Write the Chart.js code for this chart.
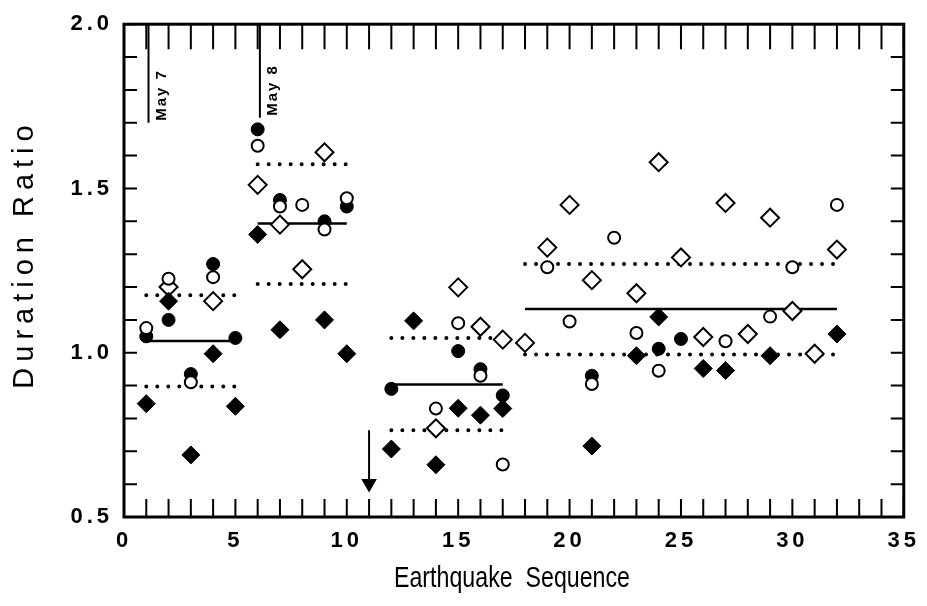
<!DOCTYPE html>
<html>
<head>
<meta charset="utf-8">
<script src="https://cdn.jsdelivr.net/npm/chart.js@4/dist/chart.umd.min.js"></script>
<style>
  body { margin: 0; background: #fff; }
  #wrap { width: 927px; height: 606px; }
</style>
</head>
<body>
<div id="wrap"><canvas id="chart"></canvas></div>
<script>
// tick labels
var xTickLabels = [0, 5, 10, 15, 20, 25, 30, 35];
var yTickLabels = [0.5, 1.0, 1.5, 2.0];

// filled circles
var fcX = [1, 2, 3, 4, 5, 6, 7, 9, 10, 12, 15, 16, 17, 21, 24, 25];
var fcY = [1.05, 1.10, 0.935, 1.27, 1.045, 1.68, 1.465, 1.40, 1.445, 0.89, 1.005, 0.95, 0.87, 0.93, 1.012, 1.042];

// open circles
var ocX = [1, 2, 3, 4, 6, 7, 8, 9, 10, 14, 15, 16, 17, 19, 20, 21, 22, 23, 24, 27, 29, 30, 32];
var ocY = [1.075, 1.225, 0.91, 1.23, 1.63, 1.445, 1.45, 1.375, 1.47, 0.83, 1.09, 0.93, 0.66, 1.26, 1.095, 0.905, 1.35, 1.06, 0.945, 1.035, 1.11, 1.26, 1.45];

// filled diamonds
var fdX = [1, 2, 3, 4, 5, 6, 7, 9, 10, 12, 13, 14, 15, 16, 17, 21, 23, 24, 26, 27, 29, 32];
var fdY = [0.845, 1.157, 0.689, 0.997, 0.837, 1.36, 1.07, 1.10, 0.997, 0.707, 1.097, 0.659, 0.831, 0.81, 0.83, 0.716, 0.991, 1.109, 0.952, 0.946, 0.991, 1.057];

// open diamonds
var odX = [2, 4, 6, 7, 8, 9, 14, 15, 16, 17, 18, 19, 20, 21, 23, 24, 25, 26, 27, 28, 29, 30, 31, 32];
var odY = [1.20, 1.157, 1.511, 1.39, 1.254, 1.61, 0.77, 1.199, 1.079, 1.04, 1.03, 1.32, 1.45, 1.221, 1.181, 1.58, 1.29, 1.048, 1.456, 1.057, 1.411, 1.127, 0.997, 1.314];

// group means and +/- lines
var segStart = [1, 6, 12, 18];
var segEnd = [5, 10, 17, 32];
var segMean = [1.036, 1.393, 0.903, 1.133];
var segUpper = [1.175, 1.574, 1.045, 1.27];
var segLower = [0.897, 1.209, 0.764, 0.995];

// date markers and arrow
var dateX = [1.1, 6.1];
var dateBottom = [1.70, 1.715];
var dateLabels = ['May 7', 'May 8'];
var arrowX = 11;
var arrowY = [0.764, 0.602];

function pts(xs, ys) {
    var out = [];
    for (var i = 0; i < xs.length; i++) out.push({x: xs[i], y: ys[i]});
    return out;
}

var datasets = [];
datasets.push({ data: pts(ocX, ocY), pointStyle: 'circle', pointRadius: 6, backgroundColor: '#fff', borderColor: '#000', borderWidth: 2, order: 1 });
datasets.push({ data: pts(fcX, fcY), pointStyle: 'circle', pointRadius: 6.5, backgroundColor: '#000', borderColor: '#000', borderWidth: 1, order: 2 });
datasets.push({ data: pts(fdX, fdY), pointStyle: 'rectRot', pointRadius: 9, backgroundColor: '#000', borderColor: '#000', borderWidth: 1, order: 3 });
datasets.push({ data: pts(odX, odY), pointStyle: 'rectRot', pointRadius: 9, backgroundColor: '#fff', borderColor: '#000', borderWidth: 2, order: 4 });

for (var i = 0; i < segStart.length; i++) {
    datasets.push({ data: [{x: segStart[i], y: segMean[i]}, {x: segEnd[i], y: segMean[i]}], showLine: true, pointRadius: 0, borderColor: '#000', borderWidth: 2.5, order: 6 });
    datasets.push({ data: [{x: segStart[i], y: segUpper[i]}, {x: segEnd[i], y: segUpper[i]}], showLine: true, pointRadius: 0, borderColor: '#000', borderWidth: 4, borderDash: [0, 11], borderCapStyle: 'round', order: 6 });
    datasets.push({ data: [{x: segStart[i], y: segLower[i]}, {x: segEnd[i], y: segLower[i]}], showLine: true, pointRadius: 0, borderColor: '#000', borderWidth: 4, borderDash: [0, 11], borderCapStyle: 'round', order: 6 });
}
for (var j = 0; j < dateX.length; j++) {
    datasets.push({ data: [{x: dateX[j], y: 2.0}, {x: dateX[j], y: dateBottom[j]}], showLine: true, pointRadius: 0, borderColor: '#000', borderWidth: 2, order: 6 });
}
datasets.push({ data: [{x: arrowX, y: arrowY[0]}, {x: arrowX, y: arrowY[1]}], showLine: true, borderColor: '#000', borderWidth: 2,
    pointRadius: [0, 7], pointStyle: 'triangle', rotation: 180, pointBackgroundColor: '#000', pointBorderColor: '#000', order: 6 });

var frame = {
    id: 'frame',
    beforeDraw: function (chart) {
        chart.ctx.letterSpacing = '4px';
    },
    afterDraw: function (chart) {
        var ctx = chart.ctx, a = chart.chartArea, x = chart.scales.x, y = chart.scales.y;
        ctx.save();
        ctx.letterSpacing = '0px';
        ctx.strokeStyle = '#000';
        ctx.fillStyle = '#000';
        ctx.lineWidth = 3;
        ctx.strokeRect(a.left, a.top, a.right - a.left, a.bottom - a.top);
        ctx.lineWidth = 2;
        ctx.beginPath();
        x.ticks.forEach(function (t) {
            var px = x.getPixelForValue(t.value);
            ctx.moveTo(px, a.bottom); ctx.lineTo(px, a.bottom - 18);
            ctx.moveTo(px, a.top); ctx.lineTo(px, a.top + 25);
        });
        y.ticks.forEach(function (t) {
            var py = y.getPixelForValue(t.value);
            ctx.moveTo(a.left, py); ctx.lineTo(a.left + 13, py);
            ctx.moveTo(a.right, py); ctx.lineTo(a.right - 13, py);
        });
        ctx.stroke();

        // date labels
        ctx.font = 'bold 15px "Liberation Sans"';
        ctx.letterSpacing = '2px';
        ctx.textAlign = 'left';
        ctx.textBaseline = 'middle';
        for (var k = 0; k < dateX.length; k++) {
            ctx.save();
            ctx.translate(x.getPixelForValue(dateX[k]) + 13, y.getPixelForValue(dateBottom[k]) - 2);
            ctx.rotate(-Math.PI / 2);
            ctx.fillText(dateLabels[k], 0, 0);
            ctx.restore();
        }

        // axis titles
        ctx.textAlign = 'center';
        ctx.font = '29px "Liberation Sans"';
        ctx.letterSpacing = '6px';
        ctx.save();
        ctx.translate(25, 254);
        ctx.rotate(-Math.PI / 2);
        ctx.fillText('Duration Ratio', 0, 0);
        ctx.restore();

        ctx.font = '29px "Liberation Sans"';
        ctx.letterSpacing = '0px';
        ctx.save();
        ctx.translate(512, 579);
        ctx.scale(0.8, 1);
        ctx.fillText('Earthquake  Sequence', 0, 0);
        ctx.restore();
        ctx.restore();
    }
};

var ctx = document.getElementById('chart').getContext('2d');
new Chart(ctx, {
    type: 'scatter',
    data: { datasets: datasets },
    options: {
        responsive: true,
        maintainAspectRatio: false,
        animation: false,
        layout: { padding: { top: 19, right: 16, bottom: 0, left: 0 } },
        plugins: { legend: { display: false }, tooltip: { enabled: false } },
        scales: {
            x: {
                type: 'linear',
                min: 0, max: 35,
                grid: { display: false, drawTicks: false },
                border: { display: false },
                ticks: {
                    stepSize: 1,
                    autoSkip: false,
                    maxRotation: 0,
                    padding: 11,
                    color: '#000',
                    font: { family: 'Liberation Sans', size: 22, weight: 'bold' },
                    callback: function (v) { return xTickLabels.indexOf(v) >= 0 ? String(v) : ''; }
                },
                afterFit: function (s) { s.height = 89; }
            },
            y: {
                min: 0.5, max: 2.0,
                grid: { display: false, drawTicks: false },
                border: { display: false },
                ticks: {
                    stepSize: 0.1,
                    autoSkip: false,
                    padding: 11,
                    color: '#000',
                    font: { family: 'Liberation Sans', size: 22, weight: 'bold' },
                    callback: function (v) {
                        for (var i = 0; i < yTickLabels.length; i++) {
                            if (Math.abs(yTickLabels[i] - v) < 1e-6) return yTickLabels[i].toFixed(1);
                        }
                        return '';
                    }
                },
                afterFit: function (s) { s.width = 124; }
            }
        }
    },
    plugins: [frame]
});
</script>
</body>
</html>
